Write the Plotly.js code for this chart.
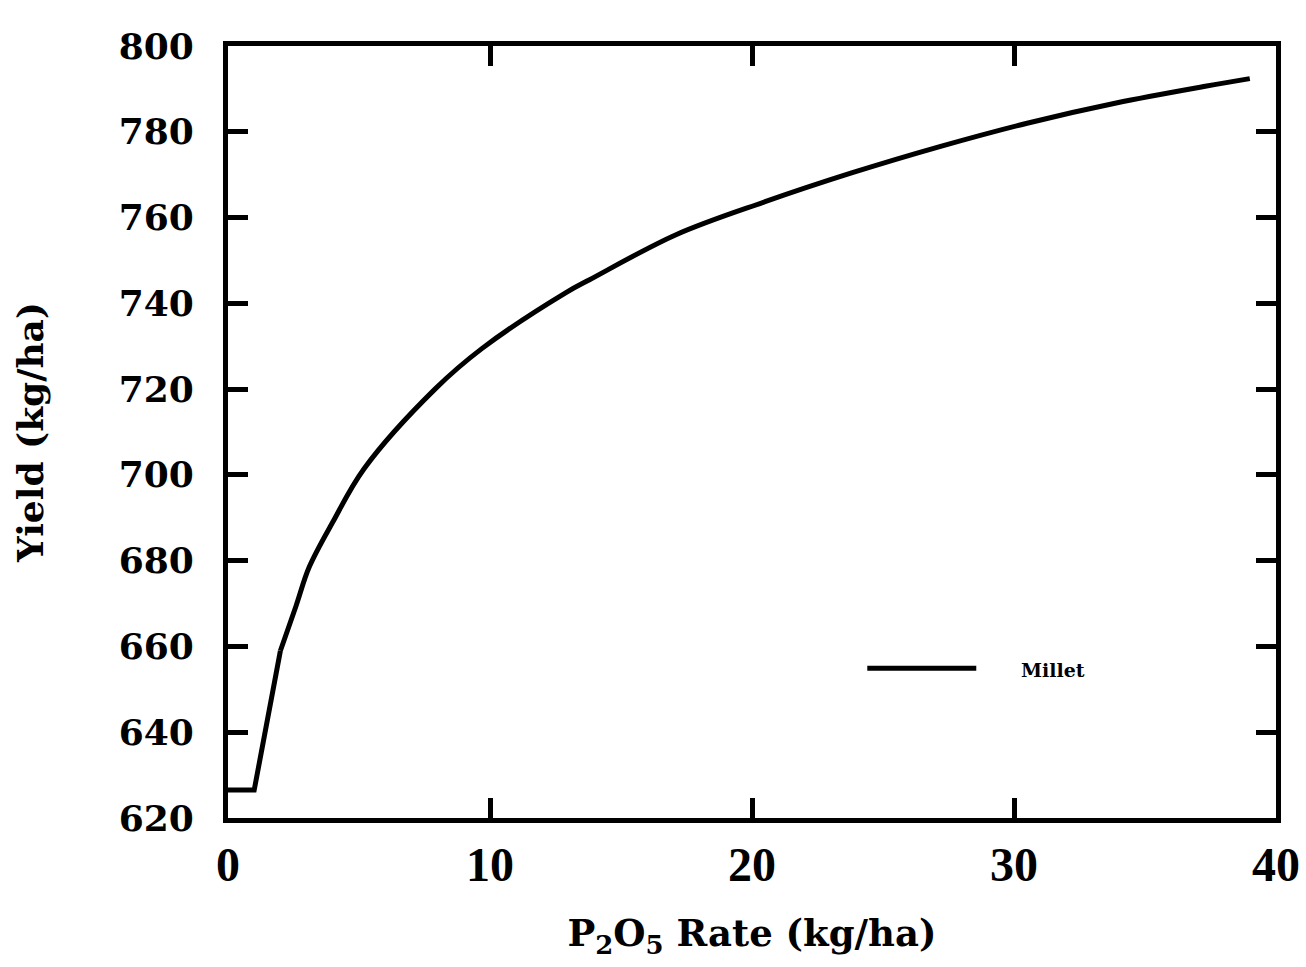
<!DOCTYPE html>
<html>
<head>
<meta charset="utf-8">
<script src="https://cdn.plot.ly/plotly-3.0.1.min.js"></script>
<style>
  html, body { margin: 0; padding: 0; background: #fff; }
  #chart { width: 1306px; height: 967px; }
</style>
</head>
<body>
<div id="chart"></div>
<script>
// Data
const seriesName = 'Millet';
const millet_x = [0, 1, 2, 2.6, 3.1, 4, 5.2, 7.9, 9.7, 12.9, 13.8, 17.1, 20.5, 23.8, 27.2, 30.5, 33.9, 37.3, 39];
const millet_y = [626.5, 626.5, 659, 669.5, 678.5, 689, 701.5, 720, 729.5, 742.5, 745.5, 756, 763.7, 770.4, 776.6, 782, 786.7, 790.6, 792.4];
const xTickVals = [0, 10, 20, 30, 40];
const yTickVals = [620, 640, 660, 680, 700, 720, 740, 760, 780, 800];
const xTitle = 'P<sub>2</sub>O<sub>5</sub> Rate (kg/ha)';
const yTitle = 'Yield (kg/ha)';

const serif = '"DejaVu Serif", "Liberation Serif", serif';
const lineStyle = { color: '#000', width: 5 };

// straight start (plateau then linear rise), smooth curve afterwards
const traces = [
  { x: millet_x.slice(0, 3), y: millet_y.slice(0, 3), type: 'scatter', mode: 'lines',
    line: Object.assign({ shape: 'linear' }, lineStyle), name: seriesName, showlegend: false, hoverinfo: 'x+y' },
  { x: millet_x.slice(2), y: millet_y.slice(2), type: 'scatter', mode: 'lines',
    line: Object.assign({ shape: 'spline', smoothing: 1 }, lineStyle), name: seriesName, showlegend: false, hoverinfo: 'x+y' }
];

const layout = {
  width: 1306, height: 967,
  margin: { l: 228, r: 30, t: 46, b: 149 },
  paper_bgcolor: '#fff', plot_bgcolor: '#fff',
  showlegend: false,
  xaxis: {
    range: [0, 40], tickvals: xTickVals, ticktext: xTickVals.map(String),
    ticks: 'inside', ticklen: 20, tickwidth: 5, tickcolor: '#000',
    showline: true, linecolor: '#000', linewidth: 5, mirror: 'ticks',
    showgrid: false, zeroline: false,
    ticklabelstandoff: 0,
    ticklabeloverflow: 'allow',
    tickfont: { family: '"Liberation Serif", serif', size: 48, color: '#000', weight: 'bold' },
    title: { text: xTitle, standoff: 32, font: { family: serif, size: 37, color: '#000', weight: 'bold' } }
  },
  yaxis: {
    range: [620, 800], tickvals: yTickVals, ticktext: yTickVals.map(String),
    ticks: 'inside', ticklen: 20, tickwidth: 5, tickcolor: '#000',
    showline: true, linecolor: '#000', linewidth: 5, mirror: 'ticks',
    showgrid: false, zeroline: false,
    ticklabelstandoff: 22,
    ticklabeloverflow: 'allow',
    tickfont: { family: serif, size: 36, color: '#000', weight: 'bold' },
    title: { text: yTitle, standoff: 66, font: { family: serif, size: 36, color: '#000', weight: 'bold' } }
  },
  shapes: [
    { type: 'line', xref: 'paper', yref: 'paper', x0: 0.61, x1: 0.714, y0: 0.194, y1: 0.194,
      line: { color: '#000', width: 5 } }
  ],
  annotations: [
    { xref: 'paper', yref: 'paper', x: 0.755, y: 0.192, xanchor: 'left', yanchor: 'middle',
      text: seriesName, showarrow: false,
      font: { family: serif, size: 19, color: '#000', weight: 'bold' } }
  ]
};

Plotly.newPlot('chart', traces, layout, { displayModeBar: false, staticPlot: true });
</script>
</body>
</html>
